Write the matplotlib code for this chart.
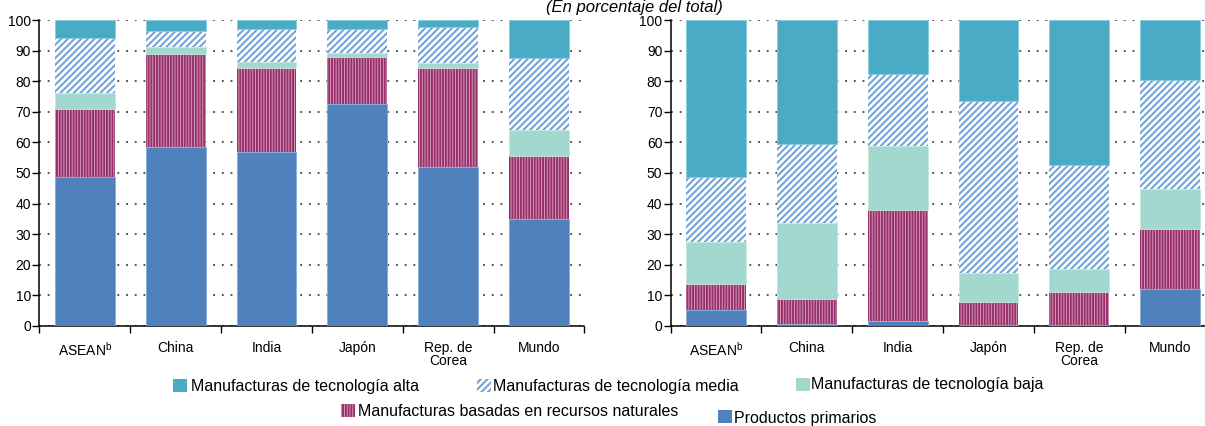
import matplotlib
matplotlib.use("Agg")
import matplotlib.pyplot as plt
import numpy as np
from matplotlib.patches import Rectangle

plt.rcParams["font.family"] = ["Liberation Sans", "DejaVu Sans"]
plt.rcParams["mathtext.fontset"] = "custom"
plt.rcParams["mathtext.rm"] = "Liberation Sans"
plt.rcParams["hatch.linewidth"] = 1.4

categories = ["ASEAN$^{\\mathrm{b}}$", "China", "India", "Japón", "Rep. de\nCorea", "Mundo"]

series_names = [
    "Productos primarios",
    "Manufacturas basadas en recursos naturales",
    "Manufacturas de tecnología baja",
    "Manufacturas de tecnología media",
    "Manufacturas de tecnología alta",
]

# left panel, share of total (bottom to top)
left_primarios = [48.7, 58.6, 56.9, 72.5, 51.9, 34.8]
left_recursos = [22.2, 30.5, 27.5, 15.4, 32.5, 20.8]
left_baja = [5.2, 2.1, 2.1, 1.3, 1.5, 8.6]
left_media = [18.1, 5.2, 10.5, 7.8, 12.0, 23.4]
left_alta = [5.8, 3.6, 3.0, 3.0, 2.1, 12.4]

# right panel
right_primarios = [5.2, 0.6, 1.5, 0.1, 0.1, 12.0]
right_recursos = [8.3, 8.2, 36.4, 7.7, 10.9, 19.7]
right_baja = [13.9, 24.8, 21.1, 9.4, 7.7, 12.9]
right_media = [21.2, 25.9, 23.4, 56.5, 33.8, 35.9]
right_alta = [51.4, 40.5, 17.6, 26.3, 47.5, 19.5]

C_PRIM = "#4f81bd"
C_REC_FACE = "#dba6c6"
C_REC_HATCH = "#983069"
C_BAJA = "#a3d8cf"
C_MEDIA = "#6a9fd8"
C_ALTA = "#4aabc4"

styles = [
    dict(color=C_PRIM, edgecolor="#86abd9", linewidth=0.6),
    dict(color=C_REC_FACE, edgecolor=C_REC_HATCH, linewidth=0, hatch="||||||"),
    dict(color=C_BAJA, edgecolor="#c4e8e1", linewidth=0.6),
    dict(color="white", edgecolor=C_MEDIA, linewidth=0, hatch="/////"),
    dict(color=C_ALTA, edgecolor="#86cde0", linewidth=0.6),
]

W, H = 1205, 426
fig = plt.figure(figsize=(W / 100, H / 100), dpi=100)

ax_w = 545 / W
ax_h = (325.7 - 20.3) / H
ax_b = 1 - 325.7 / H
ax_left = fig.add_axes([39.4 / W, ax_b, ax_w, ax_h])
ax_right = fig.add_axes([670.6 / W, ax_b, ax_w, ax_h])


def draw_panel(ax, data):
    x = np.arange(len(categories))
    bottom = np.zeros(len(categories))
    for values, style in zip(data, styles):
        ax.bar(x, values, width=0.66, bottom=bottom, zorder=3, **style)
        bottom += np.array(values)

    ax.set_xlim(-0.5, len(categories) - 0.5)
    ax.set_ylim(0, 100)
    ax.set_yticks(np.arange(0, 101, 10))
    ax.set_xticks(np.arange(-0.5, len(categories), 1.0))
    ax.set_xticklabels([])
    ax.set_xticks(x, minor=True)
    ax.set_xticklabels(categories, minor=True, fontsize=10, linespacing=0.95, va="top")
    ax.tick_params(axis="x", which="major", direction="out", length=5, width=1.0)
    ax.tick_params(axis="x", which="minor", length=0, pad=11)
    ax.tick_params(axis="y", direction="out", length=5, width=1.0, pad=1, labelsize=10)

    ax.grid(axis="y", color="#222222", linestyle=(0, (1.2, 4.5)), linewidth=1.1, zorder=1)
    ax.set_axisbelow(True)
    for side in ("top", "right"):
        ax.spines[side].set_visible(False)
    for side in ("left", "bottom"):
        ax.spines[side].set_linewidth(1.1)


draw_panel(ax_left, [left_primarios, left_recursos, left_baja, left_media, left_alta])
draw_panel(ax_right, [right_primarios, right_recursos, right_baja, right_media, right_alta])

fig.text(634 / W, 1 - 12 / H, "(En porcentaje del total)", ha="center", va="baseline",
         fontsize=12, style="italic")

# legend, placed by hand like the original
legend_items = [
    (4, 173, 379, 191, 386),
    (3, 477, 379, 493, 386),
    (2, 796, 378, 811, 384),
    (1, 341, 404, 358, 411),
    (0, 718, 410, 734, 419),
]
for idx, bx, by, tx, ty in legend_items:
    st = styles[idx]
    rect = Rectangle((bx / W, 1 - (by + 13) / H), 13.5 / W, 13 / H, transform=fig.transFigure,
                     facecolor=st["color"], edgecolor=st["edgecolor"], linewidth=0,
                     hatch=st.get("hatch"))
    fig.add_artist(rect)
    fig.text(tx / W, 1 - ty / H, series_names[idx], ha="left", va="center", fontsize=11.5)

fig.savefig("out.png", dpi=100)
